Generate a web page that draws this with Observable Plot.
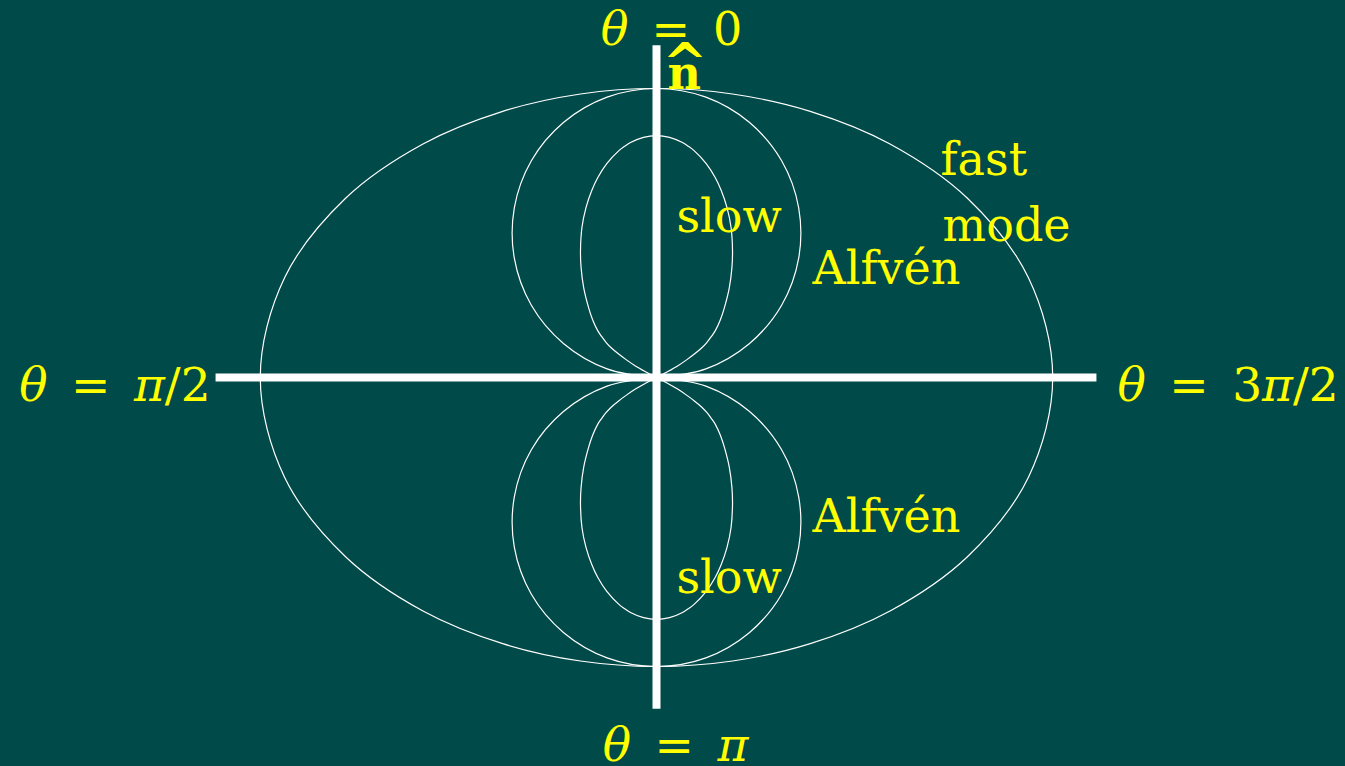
<!DOCTYPE html>
<html>
<head>
<meta charset="utf-8">
<script src="https://cdn.jsdelivr.net/npm/d3@7"></script>
<script src="https://cdn.jsdelivr.net/npm/@observablehq/plot@0.6"></script>
<style>
  html, body { margin: 0; padding: 0; background: #004b49; }
  #chart { width: 1345px; height: 766px; overflow: hidden; }
</style>
</head>
<body>
<div id="chart"></div>
<script>
// Phase-speed polar diagram (units: Alfvén speed = 1), upper-right quadrant samples,
// listed from the top (theta = 0) down to the horizontal axis / origin.
const fastQuadrant = [[0, 1.000], [0.263, 0.981], [0.532, 0.921], [0.808, 0.808], [1.075, 0.621], [1.287, 0.345], [1.371, 0]];
const alfvenQuadrant = [[0, 1.000], [0.171, 0.970], [0.321, 0.883], [0.433, 0.750], [0.492, 0.587], [0.492, 0.413], [0.433, 0.250], [0.321, 0.117], [0.171, 0.030], [0, 0]];
const slowQuadrant = [[0, 0.837], [0.045, 0.831], [0.090, 0.813], [0.110, 0.800], [0.130, 0.785], [0.172, 0.740], [0.203, 0.692], [0.224, 0.647], [0.244, 0.588], [0.258, 0.519], [0.263, 0.439], [0.261, 0.381], [0.252, 0.311], [0.235, 0.242], [0.221, 0.200], [0.204, 0.163], [0.190, 0.142], [0.174, 0.121], [0.155, 0.101], [0.131, 0.081], [0.104, 0.061], [0.073, 0.040], [0.038, 0.020], [0, 0]];

// Axis extents (data units)
const axisHalfX = 1.524;
const axisHalfY = 1.148;

// Labels
const labelTexts = ["θ\u2002=\u20020", "θ\u2002=\u2002π/2", "θ\u2002=\u20023π/2", "θ\u2002=\u2002π", "fast", "mode", "Alfvén", "Alfvén", "slow", "slow"];
const labelLayout = [
  {x: 0.052, y: 1.152, anchor: "middle", size: 46},
  {x: -1.543, y: -0.080, anchor: "end", size: 47},
  {x: 1.595, y: -0.080, anchor: "start", size: 47},
  {x: 0.066, y: -1.328, anchor: "middle", size: 47},
  {x: 0.983, y: 0.699, anchor: "start", size: 46},
  {x: 0.990, y: 0.474, anchor: "start", size: 46},
  {x: 0.540, y: 0.322, anchor: "start", size: 46},
  {x: 0.540, y: -0.533, anchor: "start", size: 46},
  {x: 0.069, y: 0.505, anchor: "start", size: 46},
  {x: 0.069, y: -0.747, anchor: "start", size: 46}
];
const labels = labelTexts.map((t, i) => ({text: t, ...labelLayout[i]}));
const normalVector = [{letter: "n", hat: "^"}];

// Build closed fast-mode loop from quadrant
function fullLoop(Q) {
  const pts = [];
  Q.forEach(([x, y]) => pts.push({x, y}));
  Q.slice(0, -1).reverse().forEach(([x, y]) => pts.push({x, y: -y}));
  Q.slice(1).forEach(([x, y]) => pts.push({x: -x, y: -y}));
  Q.slice(1, -1).reverse().forEach(([x, y]) => pts.push({x: -x, y}));
  return pts;
}
// Build lobes (upper and lower), each from origin round to origin
function lobes(Q, name) {
  const rows = [];
  [1, -1].forEach(s => {
    const id = name + (s > 0 ? "-up" : "-down");
    Q.slice().reverse().forEach(([x, y]) => rows.push({x: -x, y: s * y, z: id}));
    Q.slice(1).forEach(([x, y]) => rows.push({x, y: s * y, z: id}));
  });
  return rows;
}
const fastRows = fullLoop(fastQuadrant);
const lobeRows = [...lobes(alfvenQuadrant, "alfven"), ...lobes(slowQuadrant, "slow")];

const textMarks = [];
for (const anchor of ["start", "middle", "end"]) {
  for (const size of [46, 47]) {
    const sub = labels.filter(d => d.anchor === anchor && d.size === size);
    if (sub.length) textMarks.push(Plot.text(sub, {x: "x", y: "y", text: "text", textAnchor: anchor, lineAnchor: "bottom", fill: "#ffff00", fontSize: size, fontFamily: "DejaVu Serif"}));
  }
}

const W = 1345, H = 766;
const plot = Plot.plot({
  width: W,
  height: H,
  margin: 0,
  x: {domain: [-656 / 289, (W - 656) / 289], range: [0, W], axis: null},
  y: {domain: [-(H - 377) / 289, 377 / 289], range: [H, 0], axis: null},
  style: {background: "#004b49", fontFamily: "DejaVu Serif"},
  marks: [
    Plot.line(fastRows, {x: "x", y: "y", curve: "catmull-rom-closed", stroke: "white", strokeWidth: 1.2}),
    Plot.line(lobeRows, {x: "x", y: "y", z: "z", curve: "catmull-rom", stroke: "white", strokeWidth: 1.2}),
    Plot.ruleY([0], {x1: -axisHalfX, x2: axisHalfX, stroke: "white", strokeWidth: 8, strokeLinecap: "butt"}),
    Plot.ruleX([0], {y1: -axisHalfY, y2: axisHalfY, stroke: "white", strokeWidth: 8, strokeLinecap: "butt"}),
    ...textMarks,
    Plot.text(normalVector, {x: () => 0.038, y: () => 1.0, text: "letter", textAnchor: "start", lineAnchor: "bottom", fill: "#ffff00", fontSize: 46, fontWeight: "bold", fontFamily: "DejaVu Serif"}),
    Plot.text(normalVector, {x: () => 0.099, y: () => 1.022, text: "hat", textAnchor: "middle", lineAnchor: "bottom", fill: "#ffff00", fontSize: 54, fontWeight: "bold", fontFamily: "DejaVu Serif"})
  ]
});

// Render θ and π in italic
d3.select(plot).selectAll("text").each(function() {
  const el = this;
  const t = el.textContent;
  if (!/[θπ]/.test(t)) return;
  while (el.firstChild) el.removeChild(el.firstChild);
  for (const ch of t) {
    const sp = document.createElementNS("http://www.w3.org/2000/svg", "tspan");
    if (ch === "θ" || ch === "π") sp.setAttribute("font-style", "italic");
    sp.textContent = ch;
    el.appendChild(sp);
  }
});
document.getElementById("chart").appendChild(plot);
</script>
</body>
</html>
